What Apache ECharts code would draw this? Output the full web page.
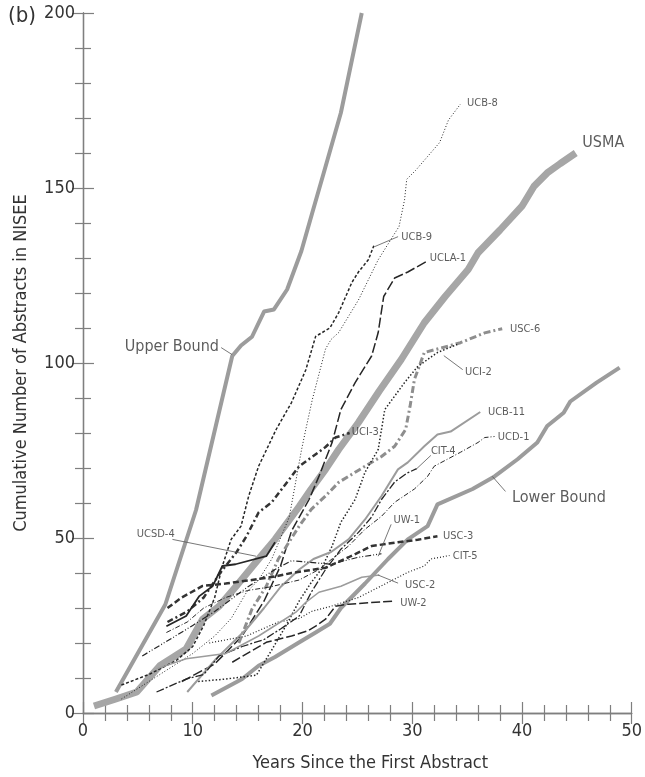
<!DOCTYPE html>
<html>
<head>
<meta charset="utf-8">
<script src="https://cdn.jsdelivr.net/npm/echarts@6/dist/echarts.min.js"></script>
<style>
html,body{margin:0;padding:0;background:#fff}
#chart{width:645px;height:777px}
</style>
</head>
<body>
<div id="chart"></div>
<script>
// Narrow sans: DejaVu Sans in its condensed width (selected via font-stretch)
const FONT = "'DejaVu Sans',sans-serif";
const STRETCH = 'condensed';

// Cumulative number of abstracts: [years since first abstract, count]
const upperBound = [[3,6],[7.5,31],[10.3,58],[12.1,82],[13.6,102],[14.4,105],[15.4,107.5],[16.5,114.7],[17.4,115.3],[18.6,121],[19.9,132],[20.9,143],[22,155],[23.5,171.5],[25.4,200]];
const lowerBound = [[11.7,5],[14.5,9.7],[16,13.5],[17.5,16],[19.6,20],[21.2,23],[22.5,25.5],[23.5,30],[25.7,37],[27.8,44],[29.6,49.6],[31.4,53.4],[32.3,59.6],[35.5,64],[37.5,67.6],[39.6,72.5],[41.4,77.3],[42.3,82],[43.8,85.8],[44.4,89],[46.8,94.4],[48.9,98.7]];
const usma = [[1,2],[3,4],[4.9,6],[7,13.5],[9.4,18.3],[10.9,26.8],[12.4,30.5],[13.9,36],[16,44],[17.5,49.6],[19.7,59],[20.8,64],[22.1,69.6],[23.3,75.3],[25.1,83],[27,92],[29,101],[31.1,111.5],[33,119],[35.1,126.7],[36,131.5],[38,138],[40,144.8],[41.1,150.5],[42.3,154.3],[43.5,157],[44.9,160]];
const ucb8 = [[3.5,4],[7,11],[10,17],[12,22],[13.5,27],[14.9,34.5],[16,38],[17.2,44],[18.8,56],[19.9,75],[20.3,81],[20.9,89.6],[22.1,104],[22.6,106.7],[23.3,108.7],[25.1,118],[26.9,129.5],[28.8,139],[29.3,146.6],[29.5,152.5],[30.3,155],[32.5,163],[33.3,169.4],[34.4,174]];
const ucb9 = [[3.5,8],[6,11],[8.5,15],[10,19],[11,25],[12,33],[12.7,42],[13.5,49.6],[14.4,53.4],[15.1,62],[16,70.5],[17.6,81],[19,88.7],[20.3,98],[21.2,107.6],[22.5,110],[23.3,114.4],[24.5,123],[25.1,126],[26,129.5],[26.5,133.5]];
const ucla1 = [[9,9],[12,14],[14.5,22],[16.5,32],[18,42],[19,52],[20.6,61],[21.5,67.6],[22.7,77.3],[23.5,86.7],[24.8,94.4],[26.3,102],[26.9,108.7],[27.4,119],[28.4,124.3],[29.6,126],[31.3,129]];
const usc6 = [[14.2,20],[15.4,29.7],[16.7,36.2],[17.8,44],[19.7,53.4],[20.8,58.2],[22.1,62],[23.3,65.9],[25.7,70.5],[27.2,73.3],[28.4,76.2],[29.4,81],[29.8,87.6],[30.2,95.3],[31.1,103],[32.3,104],[34.4,105.8],[36.6,108.6],[38.2,109.8]];
const uci2 = [[10.5,9],[13,9.7],[15.8,10.8],[17.2,18],[18.5,25],[19.7,32],[20.8,37.3],[21.7,41],[22.7,47.7],[23.5,54.5],[24.8,61],[25.7,68.8],[26.9,75.3],[27.5,86.7],[29.3,94.4],[30.5,99],[32.3,103],[34.1,105.3]];
const uci3 = [[7.7,26],[9.5,29],[11,33],[12.5,40],[14,46],[14.9,50.5],[16,57.3],[17.2,60.2],[18.8,66.8],[19.7,70.5],[22.1,76],[23,78.7],[24.3,80]];
const ucb11 = [[9.5,6],[12.1,15.4],[14.9,24],[16.5,30],[18,36],[19.7,41],[21,44],[22.6,46],[24.2,49.6],[25.7,55.3],[27.2,62],[28.7,69.6],[29.6,71.6],[31.1,76.2],[32.3,79.6],[33.5,80.4],[36.2,86]];
const ucd1 = [[7.6,23],[9.5,26],[11,30],[13,33],[15,35],[17,36],[19.7,38],[21.5,41],[23,44.8],[24.2,47.7],[25.7,52.5],[27.2,56.2],[28.4,60.2],[30.2,64],[31.4,67.6],[32,70.5],[33.2,72.5],[34.4,74.5],[36,77.3],[36.6,78.7],[37.5,79]];
const cit4 = [[6.7,6],[9.4,9.7],[11,11],[12.4,16.3],[14.5,19],[16.5,21],[18,24],[19.7,27.7],[20.8,34.5],[22.1,41],[23.5,46.8],[25.1,51.6],[26.3,56],[27.2,61],[28.4,66],[29.5,68.5],[30.4,69.8]];
const ucsd4 = [[7.6,24.8],[9.4,27.7],[10.6,33.4],[11.8,36.2],[12.7,42],[13.9,42.5],[16.7,44.8],[17.5,48.8]];
const uw1 = [[5.4,16.3],[7.9,21],[10,25],[12,29],[15,36],[17.5,41],[19,43.5],[22.6,42.5],[25.1,44.5],[27.2,45.5]];
const usc3 = [[7.7,30],[9,33],[10.9,36.3],[13,37],[15.4,38],[17.5,39],[19,40],[22.1,41.5],[24.2,44.5],[26.3,47.7],[28.7,48.8],[30.5,49.5],[32.3,50.5]];
const cit5 = [[11.5,20],[14.9,22],[17.8,26],[19.7,27],[20.8,29],[22.6,30.5],[25.1,33],[27.8,37.3],[29.6,40.2],[31.1,42],[31.7,44],[33.4,45]];
const usc2 = [[6.7,12.6],[9.4,15.5],[13,17],[16,22],[18,26],[19.4,28.8],[20.3,31.6],[21.5,34.5],[23.5,36.2],[25.4,38.8],[27,39.4]];
const uw2 = [[13.6,14.5],[16.7,20.2],[19,22],[20.5,23.5],[21.2,24.8],[22.1,26.8],[23,30.5],[24.2,31.1],[28.4,32]];

// Axis ticks
const xTicks = [0, 10, 20, 30, 40, 50];
const yTicks = [0, 50, 100, 150, 200];

// Curve annotations: [x, y, text, large]
const curveLabels = [
  [3.8, 104.7, 'Upper Bound', true],
  [39.1, 61.6, 'Lower Bound', true],
  [45.5, 162.9, 'USMA', true],
  [35.0, 174.3, 'UCB-8', false],
  [29.0, 136.1, 'UCB-9', false],
  [31.6, 130.1, 'UCLA-1', false],
  [38.9, 109.6, 'USC-6', false],
  [34.8, 97.3, 'UCI-2', false],
  [24.5, 80.2, 'UCI-3', false],
  [36.9, 85.9, 'UCB-11', false],
  [31.7, 74.8, 'CIT-4', false],
  [37.8, 78.7, 'UCD-1', false],
  [28.3, 55.1, 'UW-1', false],
  [32.8, 50.5, 'USC-3', false],
  [4.9, 51.1, 'UCSD-4', false],
  [33.7, 44.8, 'CIT-5', false],
  [29.35, 36.5, 'USC-2', false],
  [28.9, 31.4, 'UW-2', false]
];
// Leader lines joining a label to its curve
const leaders = [
  [[12.59,104.4],[13.59,102.4]],
  [[37.3,67.6],[38.5,63.3]],
  [[26.54,133.2],[28.71,136.1]],
  [[32.88,102.1],[34.6,98.1]],
  [[31.7,73.6],[30.34,69.6]],
  [[28.08,53.9],[26.9,44.8]],
  [[8.15,49.6],[15.76,44.8]],
  [[28.71,37.1],[26.9,39.4]]
];

const BLACK = '#262626';
const GRAY = '#9c9c9c';

function curve(name, data, color, width, type, z) {
  return {
    name, type: 'line', data, symbol: 'none', smooth: false, z: z || 3,
    animation: false, silent: true,
    lineStyle: { color, width, type: type || 'solid', cap: 'butt', join: 'round' }
  };
}

const series = [
  curve('Upper Bound', upperBound, GRAY, 4, 'solid', 2),
  curve('Lower Bound', lowerBound, GRAY, 4, 'solid', 2),
  curve('USMA', usma, '#a6a6a6', 7, 'solid', 2),
  curve('UCB-8', ucb8, BLACK, 1, [1, 2]),
  curve('UCB-9', ucb9, BLACK, 1.5, [3, 2]),
  curve('UCLA-1', ucla1, BLACK, 1.5, [10, 3]),
  curve('USC-6', usc6, '#8e8e8e', 3, [7, 3, 2, 3]),
  curve('UCI-2', uci2, BLACK, 1.5, [1.5, 2]),
  curve('UCI-3', uci3, '#333', 2.5, [6, 3, 2, 3]),
  curve('UCB-11', ucb11, GRAY, 2, 'solid'),
  curve('UCD-1', ucd1, BLACK, 1, [5, 2, 1, 2]),
  curve('CIT-4', cit4, BLACK, 1.3, [8, 2, 2, 2]),
  curve('UCSD-4', ucsd4, BLACK, 1.8, 'solid'),
  curve('UW-1', uw1, BLACK, 1.2, [6, 2, 1, 2, 1, 2]),
  curve('USC-3', usc3, '#333', 2.5, [6, 3]),
  curve('CIT-5', cit5, BLACK, 1.2, [1, 2]),
  curve('USC-2', usc2, GRAY, 1.5, 'solid'),
  curve('UW-2', uw2, BLACK, 1.5, [9, 3])
];

leaders.forEach((seg, i) => {
  series.push({
    name: 'leader' + i, type: 'line', data: seg, symbol: 'none', z: 4,
    animation: false, silent: true,
    lineStyle: { color: '#555', width: 0.8 }
  });
});

series.push({
  name: 'labels', type: 'scatter', symbolSize: 0, z: 5, animation: false, silent: true,
  data: curveLabels.map(d => ({
    value: [d[0], d[1]], name: d[2],
    label: { fontSize: d[3] ? 16 : 11 }
  })),
  label: {
    show: true, position: 'inside', align: 'left', verticalAlign: 'middle',
    fontFamily: FONT, fontStyle: STRETCH, color: '#333',
    formatter: p => p.name
  }
});

const axisCommon = {
  axisLine: { show: true, lineStyle: { color: '#7f7f7f', width: 1.3 } },
  axisTick: { show: true, inside: true, length: 11, lineStyle: { color: '#7f7f7f', width: 1.2 } },
  minorTick: { show: true, splitNumber: 5, length: 8, lineStyle: { color: '#7f7f7f', width: 1.2 } },
  splitLine: { show: false }
};

const option = {
  backgroundColor: '#fff',
  animation: false,
  grid: { left: 83, right: 10, top: 13, bottom: 63, containLabel: false },
  graphic: [{
    type: 'text', left: 8, top: 5,
    style: { text: '(b)', font: STRETCH + ' 22px ' + FONT, fill: '#333' }
  }],
  xAxis: [
    Object.assign({
      type: 'value', min: xTicks[0], max: xTicks[xTicks.length - 1], interval: 10,
      position: 'bottom',
      axisLabel: { show: true, fontFamily: FONT, fontStyle: STRETCH, fontSize: 18, color: '#333', margin: 9 },
      name: 'Years Since the First Abstract', nameLocation: 'middle', nameGap: 41,
      nameTextStyle: { fontFamily: FONT, fontStyle: STRETCH, fontSize: 18, color: '#333', padding: [0, 0, 0, 26] }
    }, axisCommon),
    Object.assign({
      type: 'value', min: 0, max: 50, interval: 10, position: 'top',
      axisLabel: { show: false }
    }, axisCommon)
  ],
  yAxis: [
    Object.assign({
      type: 'value', min: yTicks[0], max: yTicks[yTicks.length - 1], interval: 50,
      position: 'left',
      axisLabel: { show: true, fontFamily: FONT, fontStyle: STRETCH, fontSize: 18, color: '#333', margin: 8 },
      name: 'Cumulative Number of Abstracts in NISEE', nameLocation: 'middle', nameGap: 53,
      nameTextStyle: { fontFamily: FONT, fontStyle: STRETCH, fontSize: 18, color: '#333' }
    }, axisCommon),
    Object.assign({
      type: 'value', min: 0, max: 200, interval: 50, position: 'right',
      axisLabel: { show: false }
    }, axisCommon)
  ],
  series
};

const chart = echarts.init(document.getElementById('chart'), null, { renderer: 'canvas' });
chart.setOption(option);
</script>
</body>
</html>
